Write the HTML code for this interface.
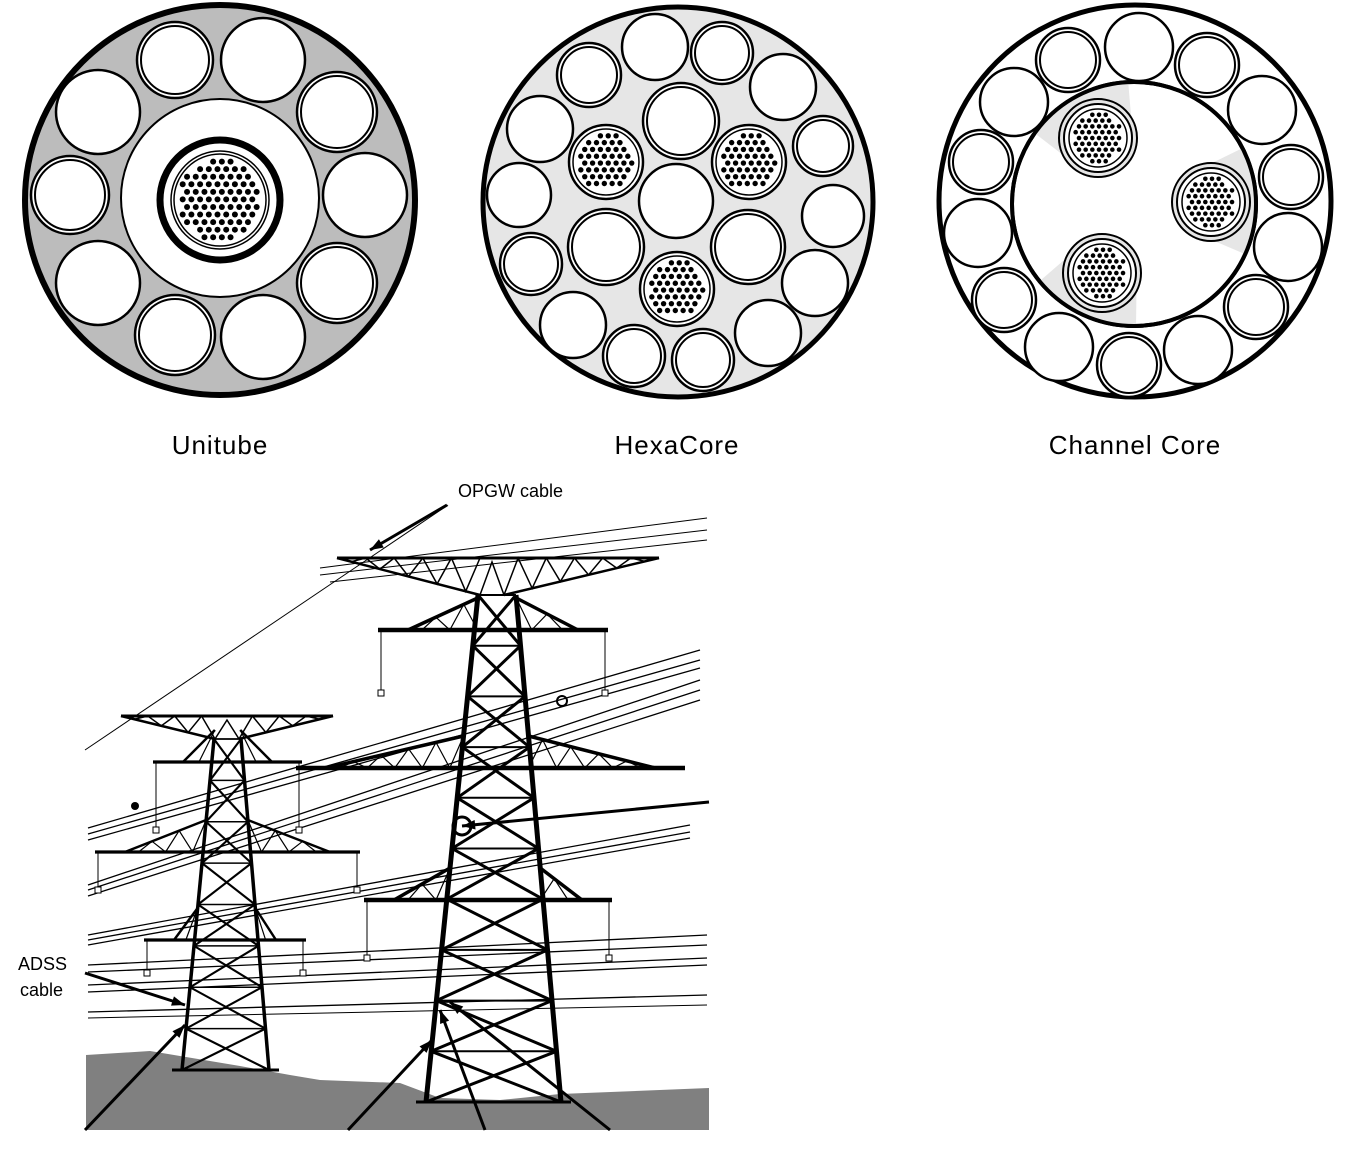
<!DOCTYPE html>
<html><head><meta charset="utf-8"><style>
html,body{margin:0;padding:0;background:#fff;}
svg{display:block;}
text{font-family:"Liberation Sans",sans-serif;}
</style></head><body>
<svg id="s" width="1357" height="1161" viewBox="0 0 1357 1161" xmlns="http://www.w3.org/2000/svg">
<defs><clipPath id="innerClip"><circle cx="1134" cy="204" r="121"/></clipPath></defs>
<g id="uni">
<circle cx="220" cy="200" r="195" fill="#bcbcbc" stroke="#000" stroke-width="6"/>
<circle cx="220" cy="198" r="99" fill="#fff" stroke="#000" stroke-width="2"/>
<circle cx="220" cy="200" r="60" fill="#fff" stroke="#000" stroke-width="7"/>
<circle cx="220" cy="200" r="49" fill="#fff" stroke="#000" stroke-width="1.5"/>
</g>
<text x="220" y="454" text-anchor="middle" font-size="26" letter-spacing="1">Unitube</text>
<g id="hex">
<circle cx="678" cy="202" r="195" fill="#e6e6e6" stroke="#000" stroke-width="5"/>
</g>
<text x="677" y="454" text-anchor="middle" font-size="26" letter-spacing="1">HexaCore</text>
<g id="chan">
<circle cx="1135" cy="201" r="196" fill="#fff" stroke="#000" stroke-width="5"/>
<circle cx="1134" cy="204" r="122" fill="#fff" stroke="#000" stroke-width="4"/>
</g>
<text x="1135" y="454" text-anchor="middle" font-size="26" letter-spacing="1">Channel Core</text>
<g id="scene">
<polygon fill="#808080" points="86,1055 150,1051 240,1066 290,1075 320,1080 400,1083 440,1098 500,1100 560,1094 709,1088 709,1130 86,1130"/>
</g>
<g id="cables" stroke="#000" fill="none"></g>
<g id="t1"></g>
<g id="t2"></g>
<g id="arrows"></g>
<text x="458" y="497" font-size="18">OPGW cable</text>
<text x="18" y="970" font-size="18">ADSS</text>
<text x="20" y="996" font-size="18">cable</text>
</svg>
<script>
const NS="http://www.w3.org/2000/svg";
function mk(parent,tag,attrs){const e=document.createElementNS(NS,tag);for(const k in attrs)e.setAttribute(k,attrs[k]);parent.appendChild(e);return e;}
function tube(g,cx,cy,r,dbl){
  const c=mk(g,'circle',{cx,cy,r,fill:'#fff',stroke:'#000','stroke-width':2.5});
  
  
  if(dbl){mk(g,'circle',{cx,cy,r:r-4,fill:'none',stroke:'#000','stroke-width':2});}
}
function bundle(g,cx,cy,r,dr){
  const b=mk(g,'circle',{cx,cy,r,fill:'#fff',stroke:'#000','stroke-width':1.5});
  
  
  const step=dr*2.9;
  for(let y=-r;y<=r;y+=step*0.87){
    const row=Math.round((y+r)/(step*0.87));
    for(let x=-r+(row%2)*step/2;x<=r;x+=step){
      if(x*x+y*y<(r-dr-2)*(r-dr-2)) mk(g,'circle',{cx:cx+x,cy:cy+y,r:dr,fill:'#000'});
    }
  }
}
const uni=document.getElementById('uni');
const uT=[[175,60,38,1],[263,60,42,0],[98,112,42,0],[337,112,40,1],[70,195,39,1],[365,195,42,0],[98,283,42,0],[337,283,40,1],[175,335,40,1],[263,337,42,0]];
uT.forEach(t=>tube(uni,t[0],t[1],t[2],t[3]));
bundle(uni,220,200,46,3);
const hex=document.getElementById('hex');
const hT=[[589,75,32,1],[655,47,33,0],[722,53,31,1],[783,87,33,0],[823,146,30,1],[833,216,31,0],[815,283,33,0],[768,333,33,0],[703,360,31,1],[634,356,31,1],[573,325,33,0],[531,264,31,1],[519,195,32,0],[540,129,33,0],[681,121,38,1],[676,201,37,0],[606,247,38,1],[748,247,37,1]];
hT.forEach(t=>tube(hex,t[0],t[1],t[2],t[3]));
[[606,162],[749,162],[677,289]].forEach(p=>{mk(hex,'circle',{cx:p[0],cy:p[1],r:37,fill:'#fff',stroke:'#000','stroke-width':2.5});bundle(hex,p[0],p[1],33,2.7);});
const ch=document.getElementById('chan');
const cT=[[1068,60,32,1],[1139,47,34,0],[1207,65,32,1],[1262,110,34,0],[1291,177,32,1],[1288,247,34,0],[1256,307,32,1],[1198,350,34,0],[1129,365,32,1],[1059,347,34,0],[1004,300,32,1],[978,233,34,0],[981,162,32,1],[1014,102,34,0]];
cT.forEach(t=>tube(ch,t[0],t[1],t[2],t[3]));
const wedges=mk(ch,'g',{'clip-path':'url(#innerClip)'});
[[1098,138],[1211,202],[1102,273]].forEach(p=>{
  const a=Math.atan2(p[1]-204,p[0]-1134);
  const ex=1134+125*Math.cos(a), ey=204+125*Math.sin(a);
  const px=-Math.sin(a), py=Math.cos(a);
  mk(wedges,'polygon',{points:`${p[0]+px*38},${p[1]+py*38} ${ex+px*60},${ey+py*60} ${ex-px*60},${ey-py*60} ${p[0]-px*38},${p[1]-py*38}`,fill:'#e6e6e6',stroke:'none'});
});
mk(ch,'circle',{cx:1134,cy:204,r:122,fill:'none',stroke:'#000','stroke-width':4});
[[1098,138],[1211,202],[1102,273]].forEach(p=>{
  mk(ch,'circle',{cx:p[0],cy:p[1],r:39,fill:'#e6e6e6',stroke:'#000','stroke-width':2});
  mk(ch,'circle',{cx:p[0],cy:p[1],r:34,fill:'#fff',stroke:'#000','stroke-width':2});
  bundle(ch,p[0],p[1],29,2.3);
});
const cab=document.getElementById('cables');
const lines=[[85,750,448,505,1],[320,568,707,518,1],[320,575,707,530,1],[330,582,707,540,1],
[88,828,700,650,1.3],[88,834,700,660,1.3],[88,840,700,668,1.3],
[88,885,700,680,1.3],[88,890,700,690,1.3],[88,896,700,700,1.3],
[88,935,690,825,1.3],[88,940,690,832,1.3],[88,945,690,838,1.3],
[88,965,707,935,1.3],[88,972,707,945,1.3],[88,985,707,958,1.3],[88,992,707,965,1.3],
[88,1012,707,995,1.3],[88,1018,707,1005,1]];
lines.forEach(l=>mk(cab,'line',{x1:l[0],y1:l[1],x2:l[2],y2:l[3],'stroke-width':l[4]}));
function tower(g,topL,topR,botL,botR,yTop,yBot,arms,sw){
  const L=y=>topL+(botL-topL)*(y-yTop)/(yBot-yTop), R=y=>topR+(botR-topR)*(y-yTop)/(yBot-yTop);
  mk(g,'line',{x1:topL,y1:yTop,x2:botL,y2:yBot,stroke:'#000','stroke-width':sw});
  mk(g,'line',{x1:topR,y1:yTop,x2:botR,y2:yBot,stroke:'#000','stroke-width':sw});
  const n=Math.round((yBot-yTop)/((topR-topL)*1.1+10));
  const h=(yBot-yTop)/n;
  for(let i=0;i<n;i++){const y1=yTop+i*h,y2=y1+h;
    mk(g,'line',{x1:L(y1),y1:y1,x2:R(y2),y2:y2,stroke:'#000','stroke-width':sw*0.6});
    mk(g,'line',{x1:R(y1),y1:y1,x2:L(y2),y2:y2,stroke:'#000','stroke-width':sw*0.6});
    mk(g,'line',{x1:L(y1),y1:y1,x2:R(y1),y2:y1,stroke:'#000','stroke-width':sw*0.4});
  }
  mk(g,'line',{x1:botL-10,y1:yBot,x2:botR+10,y2:yBot,stroke:'#000','stroke-width':3});
  arms.forEach(a=>{const [y,x1,x2,hang]=a;
    mk(g,'line',{x1,y1:y,x2,y2:y,stroke:'#000','stroke-width':sw*0.9});
    const lx=L(y-32), rx=R(y-32);
    mk(g,'line',{x1:x1+30,y1:y,x2:lx,y2:y-32,stroke:'#000','stroke-width':sw*0.7});
    mk(g,'line',{x1:x2-30,y1:y,x2:rx,y2:y-32,stroke:'#000','stroke-width':sw*0.7});
    const zig=(xa,xb)=>{const n=Math.max(2,Math.round(Math.abs(xb-xa)/14));let pts=[];
      for(let i=0;i<=n;i++){const t=i/n;const x=xa+(xb-xa)*t;pts.push(`${x},${i%2?y:y-32*t}`);}
      mk(g,'polyline',{points:pts.join(' '),fill:'none',stroke:'#000','stroke-width':1.2});};
    zig(x1+30,lx); zig(x2-30,rx);
    if(hang){mk(g,'line',{x1:x1+3,y1:y,x2:x1+3,y2:y+hang,stroke:'#000','stroke-width':1});
      mk(g,'line',{x1:x2-3,y1:y,x2:x2-3,y2:y+hang,stroke:'#000','stroke-width':1});
      mk(g,'rect',{x:x1,y:y+hang,width:6,height:6,fill:'#fff',stroke:'#000'});
      mk(g,'rect',{x:x2-6,y:y+hang,width:6,height:6,fill:'#fff',stroke:'#000'});}
  });
}
function peak(g,x1,x2,y,cx,cy){
  mk(g,'line',{x1,y1:y,x2,y2:y,stroke:'#000','stroke-width':3});
  mk(g,'line',{x1,y1:y,x2:cx-12,y2:cy,stroke:'#000','stroke-width':2.5});
  mk(g,'line',{x1:x2,y1:y,x2:cx+12,y2:cy,stroke:'#000','stroke-width':2.5});
  mk(g,'polygon',{points:`${cx},${y+4} ${cx-12},${cy} ${cx+12},${cy}`,fill:'#fff',stroke:'#000','stroke-width':1.5});
  [[x1,cx-12],[x2,cx+12]].forEach(s=>{const n=Math.round(Math.abs(s[1]-s[0])/14);let pts=[];
    for(let i=0;i<=n;i++){const t=i/n;const x=s[0]+(s[1]-s[0])*t;pts.push(`${x},${i%2? y+(cy-y)*t : y}`);}
    mk(g,'polyline',{points:pts.join(' '),fill:'none',stroke:'#000','stroke-width':1.5});});
}
const t1=document.getElementById('t1'), t2=document.getElementById('t2');
peak(t1,121,333,716,227,739);
tower(t1,214,241,182,269,739,1070,[[762,153,302,65],[852,95,360,35],[940,144,306,30]],3.5);
peak(t2,337,659,558,492,595);
tower(t2,478,516,426,561,595,1102,[[630,378,608,60],[768,296,685,0],[900,364,612,55]],5);
mk(t2,'circle',{cx:462,cy:826,r:9,fill:'none',stroke:'#000','stroke-width':3});
mk(t2,'circle',{cx:562,cy:701,r:5,fill:'none',stroke:'#000','stroke-width':2});
mk(t1,'circle',{cx:135,cy:806,r:4,fill:'#000'});
const ar=document.getElementById('arrows');
function arrow(x1,y1,x2,y2){
  mk(ar,'line',{x1,y1,x2,y2,stroke:'#000','stroke-width':3});
  const a=Math.atan2(y2-y1,x2-x1),s=14;
  mk(ar,'polygon',{points:`${x2},${y2} ${x2-s*Math.cos(a-0.35)},${y2-s*Math.sin(a-0.35)} ${x2-s*Math.cos(a+0.35)},${y2-s*Math.sin(a+0.35)}`,fill:'#000'});
}
arrow(447,505,370,550);
arrow(85,973,185,1005);
arrow(85,1130,185,1025);
arrow(348,1130,432,1040);
arrow(485,1130,440,1010);
arrow(610,1130,450,1002);
arrow(709,802,462,826);
</script>
</body></html>
